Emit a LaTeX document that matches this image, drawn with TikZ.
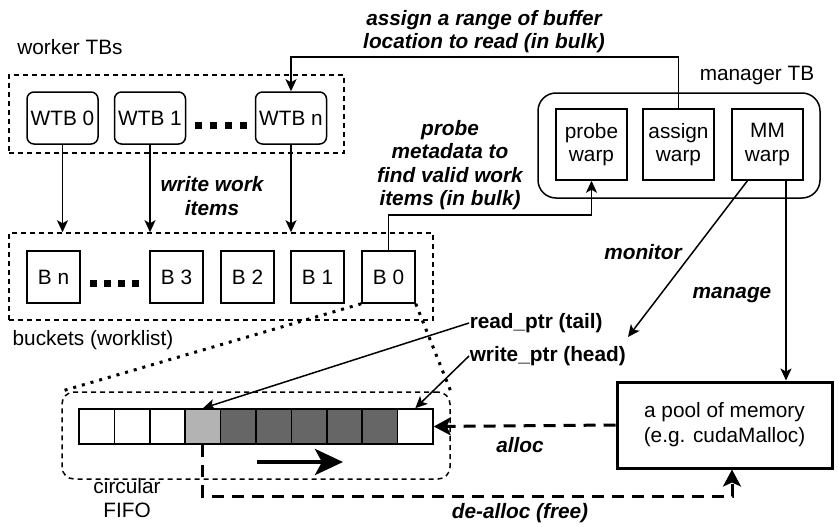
\documentclass[tikz,border=0pt]{standalone}
\usepackage{fontspec}
\setmainfont{Liberation Sans}
\usetikzlibrary{arrows.meta,calc}
\begin{document}
\begin{tikzpicture}[x=1pt,y=-1pt,
  font=\fontsize{20.8}{23.5}\selectfont,
  line width=1.5pt,
  arr/.style={-{Stealth[length=12pt,width=11pt,inset=3pt]}},
  thickarr/.style={line width=3pt,dash pattern=on 12pt off 8pt,-{Stealth[length=17pt,width=18pt,inset=4pt]}},
  wtb/.style={draw,rounded corners=7pt,minimum width=71pt,minimum height=52pt,inner sep=0pt},
  bkt/.style={draw,minimum width=53pt,minimum height=52pt,inner sep=0pt},
  warp/.style={draw,minimum width=71pt,minimum height=71pt,inner sep=0pt,align=center},
  grp/.style={draw,dash pattern=on 5pt off 4pt,inner sep=0pt},
  cell/.style={draw,minimum width=35.4pt,minimum height=35pt,inner sep=0pt},
  lbl/.style={font=\fontsize{20.8}{23.5}\selectfont\bfseries\itshape,align=center,inner sep=0pt},
  plain/.style={align=center,inner sep=0pt},
  dots/.style={line width=3pt,dash pattern=on 3pt off 6pt,line cap=butt}
]
\useasboundingbox (0,0) rectangle (838,527);

% worker TBs
\node[grp,minimum width=335pt,minimum height=78pt] (wbox) at (176.5,114) {};
\node[plain] (wlab) at (70,47) {worker TBs};
\node[wtb] (w0) at (62.5,118) {WTB 0};
\node[wtb] (w1) at (150,118) {WTB 1};
\node[wtb] (wn) at (291,118) {WTB n};
\foreach \x in {198,213,228,243} \fill (\x-3.5,121.5) rectangle ++(7,7);

% buckets
\node[grp,minimum width=424pt,minimum height=87pt] (bbox) at (221,276.5) {};
\node[bkt] (bn) at (53.5,277) {B n};
\node[bkt] (b3) at (176.5,277) {B 3};
\node[bkt] (b2) at (247.5,277) {B 2};
\node[bkt] (b1) at (317.5,277) {B 1};
\node[bkt] (b0) at (388.5,277) {B 0};
\foreach \x in {93,107,121,135} \fill (\x-3.5,280) rectangle ++(7,7);
\node[plain] (blab) at (93,340) {buckets (worklist)};

% WTB -> buckets
\draw[arr] (w0.south) -- (w0.south |- bbox.north);
\draw[arr] (w1.south) -- (w1.south |- bbox.north);
\draw[arr] (wn.south) -- (wn.south |- bbox.north);
\node[lbl] (wlbl) at (212,196) {write work\\items};

% manager TB
\node[draw,rounded corners=18pt,minimum width=282pt,minimum height=105pt,inner sep=0pt] (mgr) at (679,145.5) {};
\node[plain] (mlab) at (757,76) {manager TB};
\node[warp] (probe) at (591.5,144.5) {probe\\warp};
\node[warp] (assign) at (678.5,144.5) {assign\\warp};
\node[warp] (mm) at (767.5,144.5) {MM\\warp};

% assign arrow
\coordinate (atop) at (678.5,57);
\draw[arr] (assign.north) -- (atop) -| (wn.north);
\node[lbl] (alabel) at (484,31.5) {assign a range of buffer\\location to read (in bulk)};

% probe arrow
\coordinate (pturn) at (388.5,215);
\draw[arr] (b0.north) -- (pturn) -| (probe.south);
\node[lbl] (plabel) at (450,165) {probe\\metadata to\\find valid work\\items (in bulk)};

% FIFO
\node[draw,rounded corners=12pt,dash pattern=on 5pt off 4pt,minimum width=388pt,minimum height=87pt,inner sep=0pt] (fbox) at (256,435.5) {};
\foreach \i in {0,...,9} {
  \pgfmathsetmacro{\cx}{79+35.4*(\i+0.5)}
  \ifnum\i=3 \node[cell,fill={rgb,255:red,179;green,179;blue,179}] (c\i) at (\cx,426.5) {};
  \else\ifnum\i>3 \ifnum\i<9 \node[cell,fill={rgb,255:red,102;green,102;blue,102}] (c\i) at (\cx,426.5) {};
  \else \node[cell] (c\i) at (\cx,426.5) {}; \fi
  \else \node[cell] (c\i) at (\cx,426.5) {}; \fi\fi
}
\node[plain] (flab) at (127,498) {circular\\FIFO};
\coordinate (ta) at (257,462);
\coordinate (tb) at (343,462);
\draw[line width=4.5pt,-{Stealth[length=28pt,width=26pt,inset=7pt]}] (ta) -- (tb);

% dotted zoom lines
\draw[dots] (b0.south west) -- (fbox.north west);
\draw[dots] (b0.south east) -- (fbox.north east);

% pointers
\node[font=\fontsize{20.8}{23.5}\selectfont\bfseries,anchor=west,inner sep=0pt] (rp) at (469,323) {read\_ptr (tail)};
\node[font=\fontsize{20.8}{23.5}\selectfont\bfseries,anchor=west,inner sep=0pt] (wp) at (469,356) {write\_ptr (head)};
\draw[arr] (rp.west) -- (c3.north);
\draw[arr] (wp.west) -- (c9.north);

% pool
\node[draw,line width=3pt,minimum width=215pt,minimum height=86pt,inner sep=0pt,align=center,font=\fontsize{20.8}{25}\selectfont] (pool) at (724.5,425) {a pool of memory\\(e.g. cudaMalloc)};

% monitor & manage
\coordinate (mstart) at (748,180);
\coordinate (mend) at (628,337);
\draw[arr] (mstart) -- (mend);
\node[lbl] (monlbl) at (643,252) {monitor};
\coordinate (gstart) at (786,180);
\draw[arr] (gstart) -- (gstart |- pool.north);
\node[lbl] (manlbl) at (732,295) {manage};

% alloc / dealloc
\draw[thickarr] (pool.west) -- (c9.east);
\node[lbl] (allbl) at (520,445) {alloc};
\coordinate (dturn) at (732,496);
\draw[thickarr] (c3.south) |- (dturn) -- (dturn |- pool.south);
\node[lbl] (dlbl) at (520,513) {de-alloc (free)};
\end{tikzpicture}
\end{document}
